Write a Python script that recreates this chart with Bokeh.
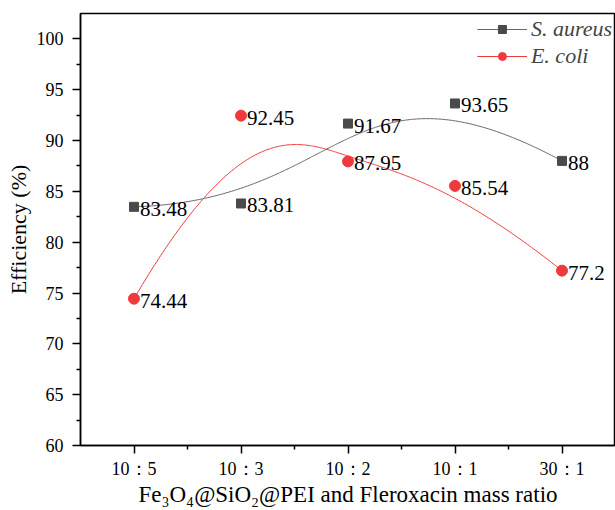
import numpy as np
from bokeh.plotting import figure
from bokeh.models import FixedTicker, Legend, LegendItem, ColumnDataSource, Range1d
from bokeh.core.properties import value
from bokeh.embed import file_html
from bokeh.resources import INLINE

categories = ["10：5", "10：3", "10：2", "10：1", "30：1"]
s_aureus = [83.48, 83.81, 91.67, 93.65, 88.0]
e_coli = [74.44, 92.45, 87.95, 85.54, 77.2]
s_labels = ["83.48", "83.81", "91.67", "93.65", "88"]
e_labels = ["74.44", "92.45", "87.95", "85.54", "77.2"]

xs = list(range(1, len(categories) + 1))


def bspline(cx, cy, n=300, k=3):
    cx = np.asarray(cx, float)
    cy = np.asarray(cy, float)
    m = len(cx)
    inner = np.linspace(0, 1, m - k + 1)
    knots = np.concatenate([[0] * k, inner, [1] * k])
    ts = np.linspace(0, 1, n)
    outx, outy = [], []
    for t in ts:
        if t >= 1:
            j = m - 1
        else:
            j = np.searchsorted(knots, t, side="right") - 1
        dx = [cx[j - k + i] for i in range(k + 1)]
        dy = [cy[j - k + i] for i in range(k + 1)]
        for r in range(1, k + 1):
            for i in range(k, r - 1, -1):
                idx = i + j - k
                den = knots[idx + k - r + 1] - knots[idx]
                a = 0 if den == 0 else (t - knots[idx]) / den
                dx[i] = (1 - a) * dx[i - 1] + a * dx[i]
                dy[i] = (1 - a) * dy[i - 1] + a * dy[i]
        outx.append(dx[k])
        outy.append(dy[k])
    return outx, outy


FONT = "Liberation Serif"
BLACK_C = "#4a4a4a"
RED_C = "#f0393c"

p = figure(width=615, height=510, output_backend="svg", toolbar_location=None,
           x_range=Range1d(0.5, 5.5), y_range=Range1d(60, 102.5),
           min_border_left=80, min_border_right=0, min_border_top=13, min_border_bottom=65)
p.grid.visible = False
p.outline_line_color = "black"
p.outline_line_width = 1.5
p.background_fill_color = "white"
p.border_fill_color = "white"

bx, by = bspline(xs, s_aureus)
ex, ey = bspline(xs, e_coli)
l1 = p.line(bx, by, line_color="#666666", line_width=1)
l2 = p.line(ex, ey, line_color=RED_C, line_width=1)

src_s = ColumnDataSource(dict(x=xs, y=s_aureus, t=s_labels))
src_e = ColumnDataSource(dict(x=xs, y=e_coli, t=e_labels))
m1 = p.scatter("x", "y", source=src_s, marker="square", size=9, fill_color=BLACK_C, line_color=BLACK_C)
m2 = p.scatter("x", "y", source=src_e, marker="circle", size=11, fill_color=RED_C, line_color=RED_C)

for src in (src_s, src_e):
    p.text("x", "y", text="t", source=src, x_offset=6, y_offset=2,
           text_font=value(FONT), text_font_size="21px", text_color="black",
           text_baseline="middle", text_align="left")

legend = Legend(items=[LegendItem(label="S. aureus", renderers=[l1, m1]),
                       LegendItem(label="E. coli", renderers=[l2, m2])],
                location="top_right", border_line_color=None, background_fill_alpha=0,
                label_text_font=FONT, label_text_font_style="italic", label_text_font_size="22px",
                glyph_width=50, glyph_height=20, label_standoff=4, spacing=1,
                padding=2, margin=3)
p.add_layout(legend)

xa = p.xaxis[0]
xa.ticker = FixedTicker(ticks=xs, minor_ticks=[1.5, 2.5, 3.5, 4.5])
xa.major_label_overrides = {x: c for x, c in zip(xs, categories)}
ya = p.yaxis[0]
ya.ticker = FixedTicker(ticks=list(range(60, 101, 5)), minor_ticks=[62.5 + 5 * i for i in range(8)])

for ax in (xa, ya):
    ax.axis_line_width = 1.5
    ax.axis_line_color = "black"
    ax.major_tick_line_width = 1.5
    ax.minor_tick_line_width = 1.5
    ax.major_tick_in = 0
    ax.minor_tick_in = 0
    ax.major_tick_out = 8
    ax.minor_tick_out = 4
    ax.major_label_text_font = FONT
    ax.major_label_text_font_size = "18px"
    ax.major_label_text_color = "black"
    ax.axis_label_text_font = FONT
    ax.axis_label_text_font_size = "22px"
    ax.axis_label_text_font_style = "normal"
    ax.axis_label_text_color = "black"

xa.major_label_standoff = 5
xa.axis_label = "Fe₃O₄@SiO₂@PEI and Fleroxacin mass ratio"
xa.axis_label_text_font_size = "23px"
xa.axis_label_standoff = 0
ya.major_label_standoff = 9
ya.axis_label = "Efficiency (%)"
ya.axis_label_standoff = 3

open("out.html", "w").write(file_html(p, INLINE))
